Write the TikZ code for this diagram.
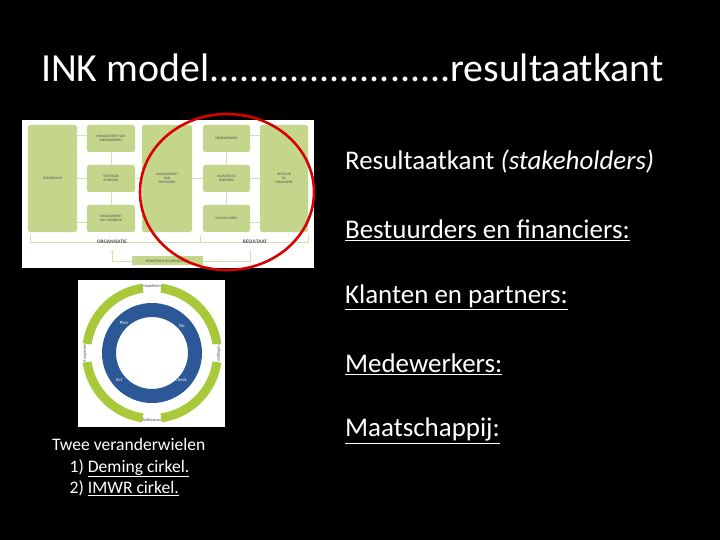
\documentclass[tikz,border=0pt]{standalone}
\usepackage{fontspec}
\setmainfont{Carlito}
\newcommand\myul[1]{\underline{#1}}
\definecolor{inkg}{HTML}{C3D68C}
\definecolor{inkl}{HTML}{D5E0B0}
\definecolor{whg}{HTML}{A9C93B}
\definecolor{whb}{HTML}{2C5897}
\begin{document}
\begin{tikzpicture}[x=0.03cm,y=-0.03cm,
  blk/.style={fill=inkg,draw=none,rounded corners=2pt,inner sep=0pt},
  tiny/.style={font=\fontsize{3}{3.5}\selectfont,align=center,text=black!70},
  rt/.style={anchor=west,text=white,font=\fontsize{23}{26}\selectfont},
  ln/.style={draw=inkl,line width=0.6pt}]
\fill[black] (0,0) rectangle (720,540);
\useasboundingbox (0,0) rectangle (720,540);
\node[anchor=west,text=white,font=\fontsize{34}{38}\selectfont] (title) at (37,68) {INK model........................resultaatkant};
% INK image
\fill[white] (22,120) rectangle (314,268);
\draw[ln] (30,235) -- (30,242) -- (200,242) -- (200,235);
\draw[ln] (200,242) -- (308,242) -- (308,235);
\draw[ln] (77,135) -- (87,135) (77,222) -- (87,222) (250,135) -- (260,135) (250,222) -- (260,222);
\node[blk,minimum width=1.47cm,minimum height=3.21cm] (l) at (52.5,178.5) {};
\node[tiny] at (l) {LEIDERSCHAP};
\node[blk,minimum width=1.44cm,minimum height=0.81cm] (m1) at (111,138.5) {};
\node[tiny] at (m1) {MANAGEMENT VAN\\MEDEWERKERS};
\node[blk,minimum width=1.44cm,minimum height=0.81cm] (m2) at (111,178.5) {};
\node[tiny] at (m2) {STRATEGIE\\EN BELEID};
\node[blk,minimum width=1.44cm,minimum height=0.81cm] (m3) at (111,218.5) {};
\node[tiny] at (m3) {MANAGEMENT\\VAN MIDDELEN};
\node[blk,minimum width=1.5cm,minimum height=3.21cm] (p) at (167,178.5) {};
\node[tiny] at (p) {MANAGEMENT\\VAN\\PROCESSEN};
\node[blk,minimum width=1.41cm,minimum height=0.81cm] (r1) at (226.5,138.5) {};
\node[tiny] at (r1) {MEDEWERKERS};
\node[blk,minimum width=1.41cm,minimum height=0.81cm] (r2) at (226.5,178.5) {};
\node[tiny] at (r2) {KLANTEN EN\\PARTNERS};
\node[blk,minimum width=1.41cm,minimum height=0.81cm] (r3) at (226.5,218.5) {};
\node[tiny] at (r3) {MAATSCHAPPIJ};
\node[blk,minimum width=1.44cm,minimum height=3.21cm] (b) at (284,178.5) {};
\node[tiny] at (b) {BESTUUR\\EN\\FINANCIERS};
\draw[ln] (l) -- (m2) (m2) -- (p) (p) -- (r2) (r2) -- (b);
\draw[ln] (m1) -- (m2) -- (m3) (r1) -- (r2) -- (r3);
\node[tiny,font=\fontsize{4.5}{5}\selectfont\bfseries] (org) at (112,242) {ORGANISATIE};
\node[tiny,font=\fontsize{4.5}{5}\selectfont\bfseries] (res) at (255,242) {RESULTAAT};
\node[blk,rounded corners=0pt,minimum width=2.13cm,minimum height=0.27cm] (v) at (167.5,261) {};
\node[tiny] at (v) {VERBETEREN EN VERNIEUWEN};
\draw[ln,->] (v.west) -- (112,261) -- (112,250);
\draw[ln] (v.east) -- (250,261) -- (250,250);
\draw[red!85!black,line width=2.2pt] (227,192) ellipse (87 and 78);
% wheel
\fill[white] (78,280) rectangle (225,427);
\foreach \a in {0,90,180,270}
  \fill[whg] (152,353) ++(\a+8:70) arc (\a+8:\a+82:70) -- ++(\a+82+180:9) arc (\a+82:\a+8:61) -- cycle;
\fill[whb, even odd rule] (152,353) circle (50) (152,353) circle (36);
\node[tiny,font=\fontsize{3.5}{4}\selectfont] at (152,286) {Modelleren};
\node[tiny,font=\fontsize{3.5}{4}\selectfont\itshape] at (152,420) {Reflecteren};
\node[tiny,font=\fontsize{3.5}{4}\selectfont,rotate=90] at (85,353) {Aanpassen};
\node[tiny,font=\fontsize{3.5}{4}\selectfont,rotate=-90] at (219,353) {Vastleggen};
\node[text=white,font=\fontsize{4}{5}\selectfont] at (124,323) {Plan};
\node[text=white,font=\fontsize{4}{5}\selectfont] at (182,326) {Do};
\node[text=white,font=\fontsize{4}{5}\selectfont] at (181,380) {Check};
\node[text=white,font=\fontsize{4}{5}\selectfont] at (119,380) {Act};
% texts
\node[rt] (r0) at (341,162) {Resultaatkant \textit{(stakeholders)}};
\node[rt] (ra) at (341,230) {\myul{Bestuurders en financiers:}};
\node[rt] (rb) at (341,297) {\myul{Klanten en partners:}};
\node[rt] (rc) at (341,364) {\myul{Medewerkers:}};
\node[rt] (rd) at (341,431) {\myul{Maatschappij:}};
\node[anchor=north west,text=white,align=left,font=\fontsize{15}{18.5}\selectfont] (tw) at (48,434)
 {Twee veranderwielen\\\quad 1) \myul{Deming cirkel.}\\\quad 2) \myul{IMWR cirkel.}};
\end{tikzpicture}
\end{document}
